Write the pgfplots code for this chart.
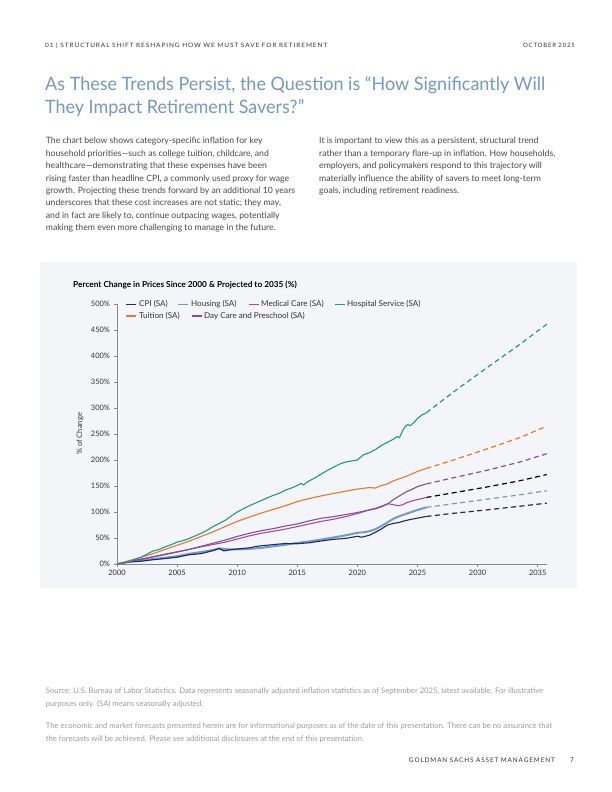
\documentclass[border=0pt]{standalone}
\usepackage{pgfplots}
\pgfplotsset{compat=1.18}
\usepackage{fontspec}
\usepackage{graphicx}
\setmainfont{Lato}

\definecolor{panel}{RGB}{244,245,248}
\definecolor{hdr}{HTML}{333333}
\definecolor{ttl}{HTML}{7499C7}
\definecolor{body}{HTML}{4A4A4A}
\definecolor{foot}{HTML}{9C9C9C}
\definecolor{axisgray}{HTML}{8A8A8A}
\definecolor{cpi}{HTML}{1D2B5E}
\definecolor{housing}{HTML}{7099CC}
\definecolor{medical}{HTML}{B0479B}
\definecolor{hospital}{HTML}{1E9B82}
\definecolor{tuition}{HTML}{E8792B}
\definecolor{daycare}{HTML}{7F4FA7}

\newcommand{\bodyline}[3]{\node[anchor=base west, inner sep=0, text=body, font=\fontsize{8.7}{10}\selectfont] at (#1,792-#2) {#3};}
\newcommand{\footline}[3]{\node[anchor=base west, inner sep=0, text=foot, font=\fontsize{7.7}{9}\selectfont] at (#1,792-#2) {#3};}

\begin{document}
\begin{tikzpicture}[x=1bp,y=1bp]
\fill[white] (0,0) rectangle (612,792);
\fill[panel] (40,792-588) rectangle (577,792-262);

% page header
\node[anchor=base west, inner sep=0, text=hdr] at (45,792-47.7)
  {\resizebox{282bp}{\height}{\fontsize{6}{7}\selectfont\addfontfeature{LetterSpace=14}01 | STRUCTURAL SHIFT RESHAPING HOW WE MUST SAVE FOR RETIREMENT}};
\node[anchor=base east, inner sep=0, text=hdr] at (575,792-47.7)
  {\fontsize{6}{7}\selectfont\addfontfeature{LetterSpace=14}OCTOBER 2025};

% heading
\node[anchor=base west, inner sep=0, text=ttl] at (45,792-90.7)
  {\resizebox{500bp}{\height}{\fontsize{18.5}{22}\selectfont As These Trends Persist, the Question is “How Significantly Will}};
\node[anchor=base west, inner sep=0, text=ttl] at (45,792-114)
  {\resizebox{259bp}{\height}{\fontsize{18.5}{22}\selectfont They Impact Retirement Savers?”}};

% body text
\bodyline{45.7}{144}{The chart below shows category-specific inflation for key}
\bodyline{45.7}{156.4}{household priorities—such as college tuition, childcare, and}
\bodyline{45.7}{168.8}{healthcare—demonstrating that these expenses have been}
\bodyline{45.7}{181.2}{rising faster than headline CPI, a commonly used proxy for wage}
\bodyline{45.7}{193.6}{growth. Projecting these trends forward by an additional 10 years}
\bodyline{45.7}{206.0}{underscores that these cost increases are not static; they may,}
\bodyline{45.7}{218.4}{and in fact are likely to, continue outpacing wages, potentially}
\bodyline{45.7}{230.8}{making them even more challenging to manage in the future.}
\bodyline{319}{144}{It is important to view this as a persistent, structural trend}
\bodyline{319}{156.4}{rather than a temporary flare-up in inflation. How households,}
\bodyline{319}{168.8}{employers, and policymakers respond to this trajectory will}
\bodyline{319}{181.2}{materially influence the ability of savers to meet long-term}
\bodyline{319}{193.6}{goals, including retirement readiness.}

% chart title
\node[anchor=base west, inner sep=0, text=black, font=\fontsize{8.3}{10}\selectfont\bfseries] at (73,792-287.7)
  {Percent Change in Prices Since 2000 \& Projected to 2035 (\%)};

% legend
\begin{scope}[font=\fontsize{8.1}{9}\selectfont, text=hdr]
\draw[cpi, line width=1.2bp] (126,792-304.3) -- (136,792-304.3);
\node[anchor=west, inner sep=0] at (139,792-304.3) {CPI (SA)};
\draw[housing, line width=1.2bp] (178,792-304.3) -- (188,792-304.3);
\node[anchor=west, inner sep=0] at (191,792-304.3) {Housing (SA)};
\draw[medical, line width=1.2bp] (249,792-304.3) -- (259,792-304.3);
\node[anchor=west, inner sep=0] at (261,792-304.3) {Medical Care (SA)};
\draw[hospital, line width=1.2bp] (335,792-304.3) -- (345,792-304.3);
\node[anchor=west, inner sep=0] at (347,792-304.3) {Hospital Service (SA)};
\draw[tuition, line width=1.2bp] (126,792-316) -- (136,792-316);
\node[anchor=west, inner sep=0] at (139,792-316) {Tuition (SA)};
\draw[daycare, line width=1.2bp] (192,792-316) -- (202,792-316);
\node[anchor=west, inner sep=0] at (204,792-316) {Day Care and Preschool (SA)};
\end{scope}

\begin{axis}[
    at={(117bp,228bp)}, anchor=south west,
    scale only axis,
    width=430.3bp, height=260bp,
    xmin=2000, xmax=2035.8,
    ymin=0, ymax=500,
    axis lines*=left,
    axis line style={draw=axisgray, line width=0.6bp},
    tick style={draw=axisgray, line width=0.6bp},
    tick align=outside,
    major tick length=3bp,
    xtick={2000,2005,...,2035},
    ytick={0,50,...,500},
    xticklabel style={/pgf/number format/1000 sep={}},
    yticklabel={\pgfmathprintnumber{\tick}\%},
    /pgf/number format/assume math mode=true,
    ticklabel style={font=\fontsize{7.5}{9}\selectfont, text=hdr},
    yticklabel style={xshift=-0.5bp},
    ylabel={\% of Change},
    ylabel style={at={(axis description cs:-0.086,0.5)}, anchor=center, font=\fontsize{7.6}{9}\selectfont, text=hdr},
    clip=false,
]

% Housing (SA)
\addplot[housing, line width=2bp] coordinates {
 (2000,0) (2001,4) (2002,7) (2003,9.5) (2004,12) (2005,15) (2006,19.5) (2007,23)
 (2008,27) (2008.5,30) (2009,28.5) (2010,28) (2011,29) (2012,31) (2013,34) (2014,37)
 (2015,40.5) (2016,43.5) (2017,47) (2018,51) (2019,55) (2020,60) (2020.5,61) (2021,63)
 (2021.5,67) (2022,73) (2022.5,80) (2023,87) (2023.5,92) (2024,96) (2024.5,100)
 (2025,104) (2025.75,109)
};
\addplot[housing, line width=1.2bp, dash pattern=on 5bp off 3.5bp] coordinates {
 (2025.75,109) (2028,116) (2030.75,124.5) (2033.5,133) (2035.75,141)
};

% CPI (SA)
\addplot[cpi, line width=1.1bp] coordinates {
 (2000,0) (2001,4.0) (2002,5.3) (2003,8.2) (2004,10.4) (2005,13.0) (2006,17.7) (2007,19.9)
 (2008,25.7) (2008.5,29.7) (2008.9,25.2) (2009.5,27.6) (2010,28.9) (2011,31.0) (2011.7,34.2)
 (2012,34.9) (2013,37.3) (2014,39.4) (2015,39.0) (2016,40.8) (2017,44.3) (2018,47.4)
 (2019,49.1) (2020,53.3) (2020.35,51.5) (2021,55.3) (2021.5,61.1) (2022,67.3) (2022.5,74.9)
 (2023,78.0) (2023.5,80.1) (2024,83.5) (2024.5,86.0) (2025,88.2) (2025.75,91.5)
};
\addplot[cpi, line width=1.2bp, dash pattern=on 5bp off 3.5bp] coordinates {
 (2025.75,91.5) (2028,97.5) (2030.75,104) (2033.5,111) (2035.75,117)
};

% Medical Care (SA)
\addplot[medical, line width=1.1bp] coordinates {
 (2000,0) (2001,4.5) (2002,9.5) (2003,14) (2004,19) (2005,23.5) (2006,28) (2007,33)
 (2008,37.5) (2009,42) (2010,48) (2011,54) (2012,59) (2013,63) (2014,67) (2015,72)
 (2016,77) (2017,82) (2018,86) (2019,91) (2020,97) (2021,104) (2021.5,106) (2022,110)
 (2022.55,116) (2023,114) (2023.4,112) (2023.8,114) (2024,117) (2024.5,121) (2025,124)
 (2025.75,128)
};
\addplot[black, line width=1.2bp, dash pattern=on 5bp off 3.5bp] coordinates {
 (2025.75,128) (2028,137) (2030.75,148) (2033.5,160) (2035.75,172)
};

% Day Care and Preschool (SA)
\addplot[daycare, line width=1.1bp] coordinates {
 (2000,0) (2001,4.5) (2002,9) (2003,13.5) (2004,18) (2005,23) (2006,28) (2007,34)
 (2008,40) (2009,46) (2010,53) (2011,59) (2012,64) (2013,68) (2014,73) (2015,77)
 (2016,83) (2017,88) (2018,91) (2019,95) (2020,99) (2021,104) (2021.5,107) (2022,111)
 (2022.55,116) (2023,124) (2023.5,131) (2024,138) (2024.5,143) (2025,149) (2025.75,154)
};
\addplot[daycare, line width=1.2bp, dash pattern=on 5bp off 3.5bp] coordinates {
 (2025.75,154) (2028,166) (2030.75,180) (2033.5,196) (2035.75,212)
};

% Tuition (SA)
\addplot[tuition, line width=1.1bp] coordinates {
 (2000,0) (2001,6.5) (2002,13) (2003,20) (2004,28) (2005,36) (2006,44) (2007,53)
 (2008,62) (2009,72) (2010,82) (2011,90) (2012,98) (2013,105) (2014,112) (2015,120)
 (2016,126) (2017,131) (2018,135.5) (2019,140) (2020,144) (2021,147) (2021.5,146)
 (2022,151) (2022.5,154) (2023,160) (2024,168) (2024.5,173) (2025,178) (2025.75,184)
};
\addplot[tuition, line width=1.2bp, dash pattern=on 5bp off 3.5bp] coordinates {
 (2025.75,184) (2028,200) (2030.75,221) (2033.5,243) (2035.75,265)
};

% Hospital Service (SA)
\addplot[hospital, line width=1.1bp] coordinates {
 (2000,0) (2000.5,2) (2001,5) (2001.5,9) (2002,13) (2002.5,19) (2003,25) (2003.5,28)
 (2004,33) (2004.5,37) (2005,42) (2005.5,45) (2006,49) (2006.5,54) (2007,59) (2007.5,65)
 (2008,72) (2008.5,78) (2009,84) (2009.5,92) (2010,100) (2010.5,106) (2011,112)
 (2011.5,117) (2012,122) (2012.5,127) (2013,132) (2013.5,136) (2014,142) (2014.5,146)
 (2015,151) (2015.3,155) (2015.5,152) (2016,160) (2016.5,166) (2017,173) (2017.5,180)
 (2018,186) (2018.5,192) (2019,196) (2019.5,198) (2020,200) (2020.5,210) (2021,214)
 (2021.5,220) (2022,228) (2022.5,234) (2023,240) (2023.3,245) (2023.5,243) (2023.8,258)
 (2024,265) (2024.2,268) (2024.4,266) (2024.7,272) (2025,280) (2025.4,287) (2025.75,291)
};
\addplot[hospital, line width=1.2bp, dash pattern=on 5bp off 3.5bp] coordinates {
 (2025.75,291) (2028,331) (2030.75,377) (2033.5,422) (2035.75,461)
};
\end{axis}

% footnotes
\footline{45.7}{694}{Source: U.S. Bureau of Labor Statistics. Data represents seasonally adjusted inflation statistics as of September 2025, latest available. For illustrative}
\footline{45.7}{707}{purposes only. (SA) means seasonally adjusted.}
\footline{45.7}{729}{The economic and market forecasts presented herein are for informational purposes as of the date of this presentation. There can be no assurance that}
\footline{45.7}{742}{the forecasts will be achieved. Please see additional disclosures at the end of this presentation.}

% page footer
\node[anchor=base east, inner sep=0, text=hdr] at (555,792-763)
  {\fontsize{6.4}{7}\selectfont\addfontfeature{LetterSpace=14}GOLDMAN SACHS ASSET MANAGEMENT};
\node[anchor=base east, inner sep=0, text=hdr] at (574,792-763)
  {\fontsize{6.5}{7}\selectfont 7};
\end{tikzpicture}
\end{document}
